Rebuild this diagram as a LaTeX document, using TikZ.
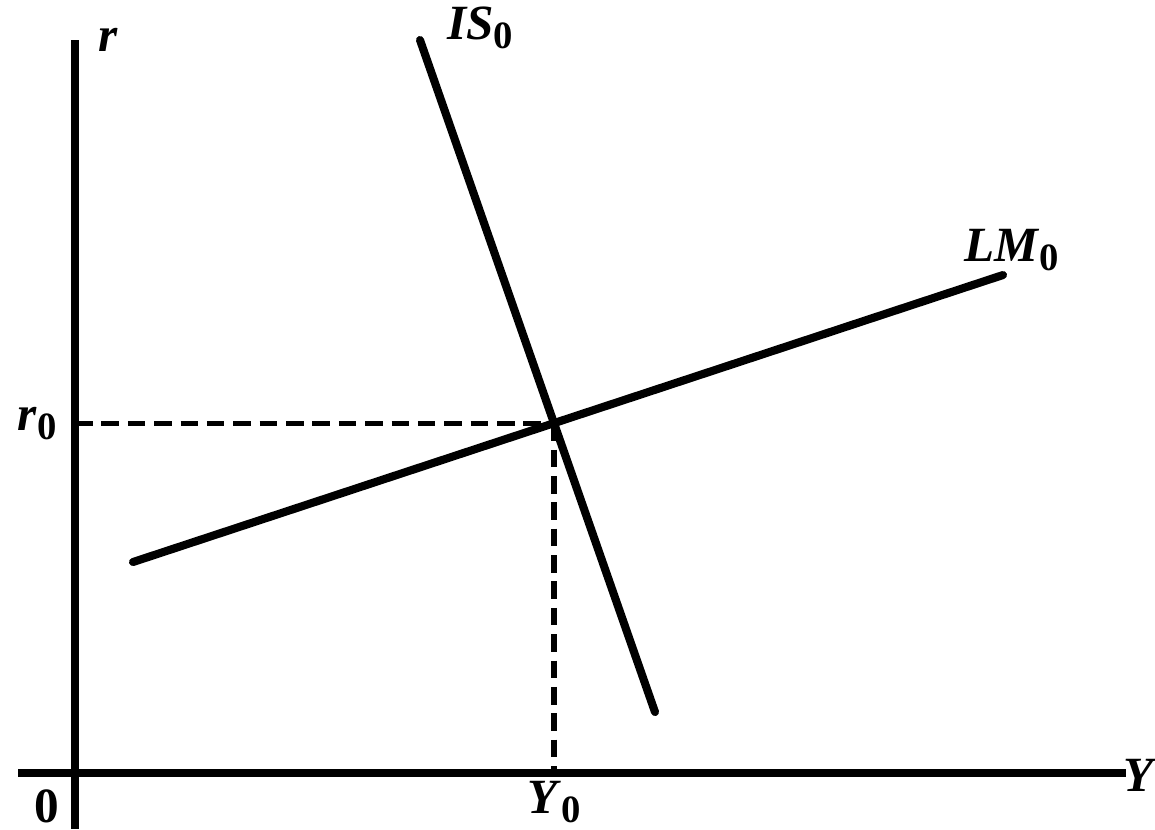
\documentclass[tikz,border=0pt]{standalone}
\usepackage{fontspec}
\setmainfont{Liberation Serif}
\usetikzlibrary{positioning}

\newcommand{\lab}[2]{\textbf{\textit{#1}}\raisebox{-0.4ex}{\fontsize{11}{12}\selectfont\textbf{#2}}}

\begin{document}
\begin{tikzpicture}[
		x=0.01cm, y=-0.01cm,
		axis/.style={line width=2.1pt},
		curve/.style={line width=2.3pt, line cap=round},
		guide/.style={line width=1.5pt, dash pattern=on 5pt off 2.5pt},
		tag/.style={font=\fontsize{14}{16}\selectfont, inner sep=1pt}
		]
		\useasboundingbox (0,0) rectangle (1155,829);
		
		% Points
		\coordinate (ytop) at (75,40);
		\coordinate (ybot) at (75,829);
		\coordinate (xleft) at (18,773);
		\coordinate (xright) at (1126,773);
		\coordinate (ISa) at (420,40);
		\coordinate (ISb) at (655,712);
		\coordinate (LMa) at (133,562);
		\coordinate (LMb) at (1003,275);
		\coordinate (E) at (intersection of ISa--ISb and LMa--LMb);
		\coordinate (rE) at (ytop |- E);
		\coordinate (YE) at (E |- xleft);
		
		% Nodes
		\node[tag] (r) at (108,40) {\textbf{\textit{r}}};
		\node[tag, inner sep=0pt] (Y) at (1140,775) {\textbf{\textit{Y}}};
		\node[tag] (O) at (47,806) {\textbf{0}};
		\node[tag, left=4pt of rE] (r0) {\lab{r}{0}};
		\node[tag, below=1pt of YE] (Y0) {\lab{Y}{0}};
		\node[tag] (IS) at (480,28) {\lab{IS}{0}};
		\node[tag] (LM) at (1012,250) {\lab{LM}{0}};
		
		% Edges
		\draw[axis] (ytop) -- (ybot);
		\draw[axis] (xleft) -- (xright);
		\draw[guide] (rE) -- (E);
		\draw[guide] (E) -- (YE);
		\draw[curve] (ISa) -- (ISb);
		\draw[curve] (LMa) -- (LMb);
		
	\end{tikzpicture}
\end{document}
